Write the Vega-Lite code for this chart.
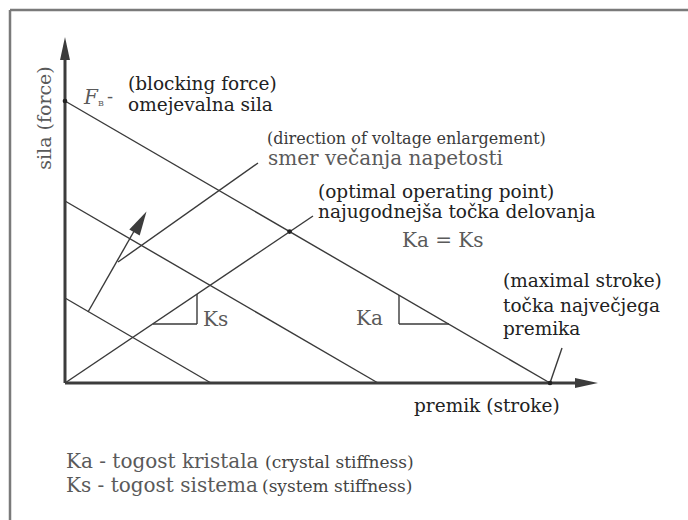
{
  "$schema": "https://vega.github.io/schema/vega-lite/v6.json",
  "width": 688,
  "height": 520,
  "padding": 0,
  "autosize": {"type": "none"},
  "background": "white",
  "config": {"view": {"stroke": null}, "text": {"font": "DejaVu Serif", "align": "left", "baseline": "alphabetic"}},
  "datasets": {
    "frame": [
      {"x": -55, "y": 373, "x2": 623, "y2": 373},
      {"x": -55, "y": 373, "x2": -55, "y2": -137}
    ],
    "axes": [
      {"x": 0, "y": 0, "x2": 0, "y2": 325},
      {"x": 0, "y": 0, "x2": 512, "y2": 0}
    ],
    "lines": [
      {"x": 0, "y": 282, "x2": 485, "y2": 0},
      {"x": 0, "y": 182, "x2": 313, "y2": 0},
      {"x": 0, "y": 85, "x2": 146, "y2": 0},
      {"x": 0, "y": 0, "x2": 248, "y2": 167},
      {"x": 53, "y": 121, "x2": 193, "y2": 220},
      {"x": 23, "y": 71, "x2": 72, "y2": 157},
      {"x": 485, "y": 0, "x2": 497, "y2": 35},
      {"x": 88, "y": 59, "x2": 132, "y2": 59},
      {"x": 132, "y": 59, "x2": 132, "y2": 89},
      {"x": 334, "y": 88, "x2": 334, "y2": 59},
      {"x": 334, "y": 59, "x2": 384, "y2": 59}
    ],
    "dots": [
      {"x": 0, "y": 282},
      {"x": 224.6, "y": 151.4},
      {"x": 485, "y": 0}
    ]
  },
  "encoding": {
    "x": {"field": "x", "type": "quantitative", "scale": {"domain": [-65, 623], "nice": false, "zero": false}, "axis": null},
    "y": {"field": "y", "type": "quantitative", "scale": {"domain": [-137, 383], "nice": false, "zero": false}, "axis": null}
  },
  "layer": [
    {
      "data": {"name": "frame"},
      "mark": {"type": "rule", "color": "#7a7a7a", "strokeWidth": 2.5},
      "encoding": {"x2": {"field": "x2"}, "y2": {"field": "y2"}}
    },
    {
      "data": {"name": "lines"},
      "mark": {"type": "rule", "color": "#3a3a3a", "strokeWidth": 1.4},
      "encoding": {"x2": {"field": "x2"}, "y2": {"field": "y2"}}
    },
    {
      "data": {"name": "axes"},
      "mark": {"type": "rule", "color": "#3c3c3c", "strokeWidth": 3},
      "encoding": {"x2": {"field": "x2"}, "y2": {"field": "y2"}}
    },
    {
      "data": {"values": [{"x": 0, "y": 334.5}]},
      "mark": {"type": "point", "shape": "M0,-1L0.43,1L-0.43,1Z", "size": 529, "filled": true, "color": "#3c3c3c", "opacity": 1}
    },
    {
      "data": {"values": [{"x": 521.5, "y": 0}]},
      "mark": {"type": "point", "shape": "M1,0L-1,0.43L-1,-0.43Z", "size": 529, "filled": true, "color": "#3c3c3c", "opacity": 1}
    },
    {
      "data": {"values": [{"x": 75.5, "y": 161}]},
      "mark": {"type": "point", "shape": "M0,-1L0.5,1L-0.5,1Z", "size": 576, "angle": 30, "filled": true, "color": "#3c3c3c", "opacity": 1}
    },
    {
      "data": {"name": "dots"},
      "mark": {"type": "point", "shape": "circle", "size": 22, "filled": true, "color": "#222222", "opacity": 1}
    },
    {
      "data": {"values": [
        {"x": 63, "y": 293, "t": "(blocking force)"},
        {"x": 63, "y": 272, "t": "omejevalna sila"},
        {"x": 253, "y": 185, "t": "(optimal operating point)"},
        {"x": 253, "y": 165, "t": "najugodnejša točka delovanja"},
        {"x": 438, "y": 96, "t": "(maximal stroke)"},
        {"x": 438, "y": 71, "t": "točka največjega"},
        {"x": 438, "y": 48, "t": "premika"},
        {"x": 349, "y": -29, "t": "premik (stroke)"}
      ]},
      "mark": {"type": "text", "fontSize": 18.5, "color": "#222222"},
      "encoding": {"text": {"field": "t"}}
    },
    {
      "data": {"values": [
        {"x": 203, "y": 218, "t": "smer večanja napetosti"},
        {"x": 337, "y": 136, "t": "Ka = Ks"},
        {"x": 138, "y": 57, "t": "Ks"},
        {"x": 291, "y": 58, "t": "Ka"},
        {"x": 1, "y": -85, "t": "Ka - togost kristala"},
        {"x": 1, "y": -109, "t": "Ks - togost sistema"}
      ]},
      "mark": {"type": "text", "fontSize": 20, "color": "#5a5a5a"},
      "encoding": {"text": {"field": "t"}}
    },
    {
      "data": {"values": [
        {"x": 202, "y": 239, "t": "(direction of voltage enlargement)"}
      ]},
      "mark": {"type": "text", "fontSize": 16, "color": "#3a3a3a"},
      "encoding": {"text": {"field": "t"}}
    },
    {
      "data": {"values": [
        {"x": 200, "y": -85, "t": "(crystal stiffness)"},
        {"x": 197, "y": -109, "t": "(system stiffness)"}
      ]},
      "mark": {"type": "text", "fontSize": 17, "color": "#444444"},
      "encoding": {"text": {"field": "t"}}
    },
    {
      "data": {"values": [{"x": -20, "y": 265, "t": "sila (force)"}]},
      "mark": {"type": "text", "fontSize": 19, "color": "#5a5a5a", "angle": 270, "align": "center", "baseline": "middle"},
      "encoding": {"text": {"field": "t"}}
    },
    {
      "data": {"values": [{"x": 19, "y": 279, "t": "F"}]},
      "mark": {"type": "text", "fontSize": 20, "fontStyle": "italic", "color": "#5a5a5a"},
      "encoding": {"text": {"field": "t"}}
    },
    {
      "data": {"values": [{"x": 33, "y": 277, "t": "B"}]},
      "mark": {"type": "text", "fontSize": 8, "color": "#5a5a5a"},
      "encoding": {"text": {"field": "t"}}
    },
    {
      "data": {"values": [{"x": 42, "y": 280, "t": "-"}]},
      "mark": {"type": "text", "fontSize": 18, "color": "#5a5a5a"},
      "encoding": {"text": {"field": "t"}}
    }
  ]
}
